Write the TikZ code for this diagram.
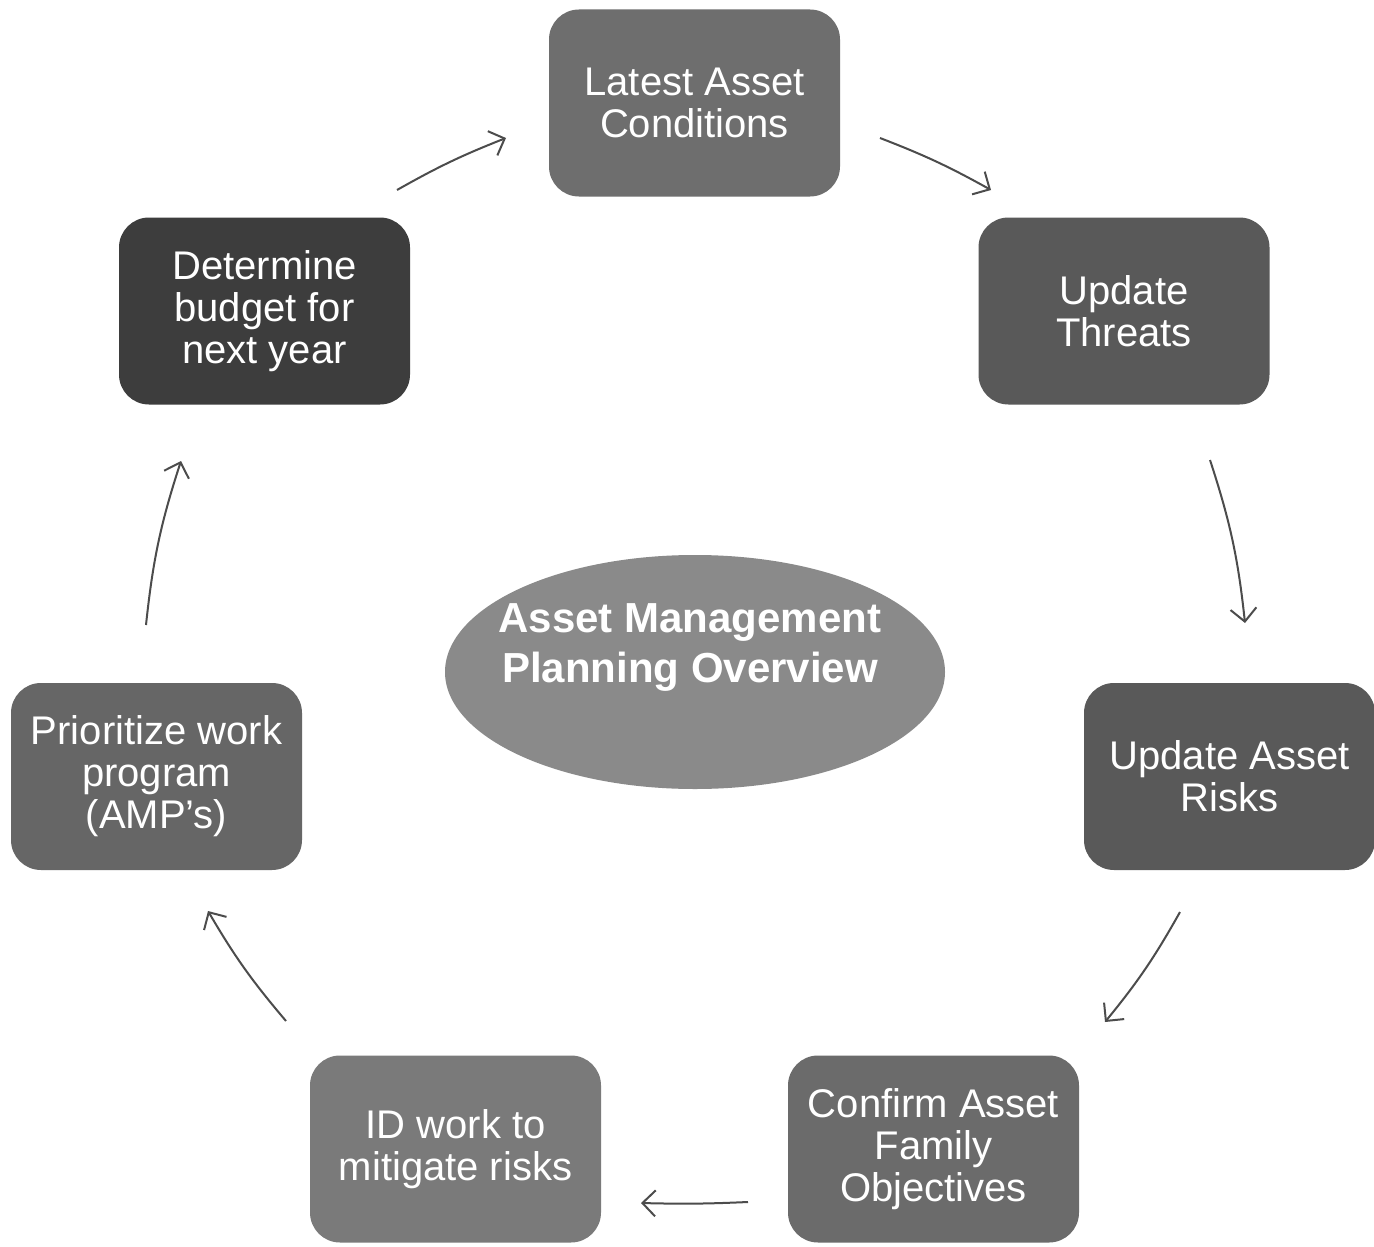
\documentclass[tikz,border=0pt]{standalone}
\usepackage{fontspec}
\setmainfont{Liberation Sans}
\usetikzlibrary{arrows.meta,shapes.geometric}
\definecolor{cLatest}{gray}{0.43}
\definecolor{cThreat}{gray}{0.35}
\definecolor{cBudget}{gray}{0.24}
\definecolor{cRisk}{gray}{0.35}
\definecolor{cPrior}{gray}{0.40}
\definecolor{cConfirm}{gray}{0.42}
\definecolor{cID}{gray}{0.48}
\definecolor{cEll}{gray}{0.54}
\definecolor{cArrow}{gray}{0.30}
\tikzset{
  stepbox/.style={rectangle, rounded corners=30pt, minimum width=291pt, minimum height=187pt,
    inner sep=0pt, text=white, align=center, font=\fontsize{40}{42}\selectfont},
  flow/.style={draw=cArrow, line width=2pt, -{Straight Barb[length=13pt,width=26pt,line width=2pt]}},
}
\begin{document}
\begin{tikzpicture}[x=1pt,y=-1pt]
\useasboundingbox[fill=white] (0,0) rectangle (1374,1247);
\node[stepbox, fill=cLatest]  (latest)  at (694.5,103) {Latest Asset\\Conditions};
\node[stepbox, fill=cThreat]  (threats) at (1124,311) {Update\\Threats};
\node[stepbox, fill=cBudget]  (budget)  at (264.5,311) {Determine\\budget for\\next year};
\node[stepbox, fill=cRisk]    (risks)   at (1229.5,776.5) {Update Asset\\Risks};
\node[stepbox, fill=cPrior]   (prior)   at (156.5,776.5) {Prioritize work\\program\\(AMP’s)};
\node[stepbox, fill=cConfirm] (confirm) at (933.5,1149) {Confirm Asset\\Family\\Objectives};
\node[stepbox, fill=cID]      (idwork)  at (455.5,1149) {ID work to\\mitigate risks};
\node[ellipse, fill=cEll, minimum width=500pt, minimum height=234pt, inner sep=0pt] (center) at (695,672) {};
\node[text=white, align=center, font=\bfseries\fontsize{42}{50}\selectfont] (title) at (690,647) {Asset Management\\Planning Overview};
% arrow end points
\coordinate (a1s) at (880,138);  \coordinate (a1e) at (991,190);
\coordinate (a2s) at (1210,460); \coordinate (a2e) at (1245,623);
\coordinate (a3s) at (1180,912); \coordinate (a3e) at (1105,1022);
\coordinate (a4s) at (748,1202); \coordinate (a4e) at (641,1203);
\coordinate (a5s) at (286,1021); \coordinate (a5e) at (208,911);
\coordinate (a6s) at (146,625);  \coordinate (a6e) at (181,461);
\coordinate (a7s) at (397,190);  \coordinate (a7e) at (506,138);
\draw[flow] (a1s) to[bend left=4] (a1e);
\draw[flow] (a2s) to[bend left=6] (a2e);
\draw[flow] (a3s) to[bend left=5] (a3e);
\draw[flow] (a4s) to[bend left=2] (a4e);
\draw[flow] (a5s) to[bend left=5] (a5e);
\draw[flow] (a6s) to[bend left=6] (a6e);
\draw[flow] (a7s) to[bend left=4] (a7e);
\end{tikzpicture}
\end{document}
